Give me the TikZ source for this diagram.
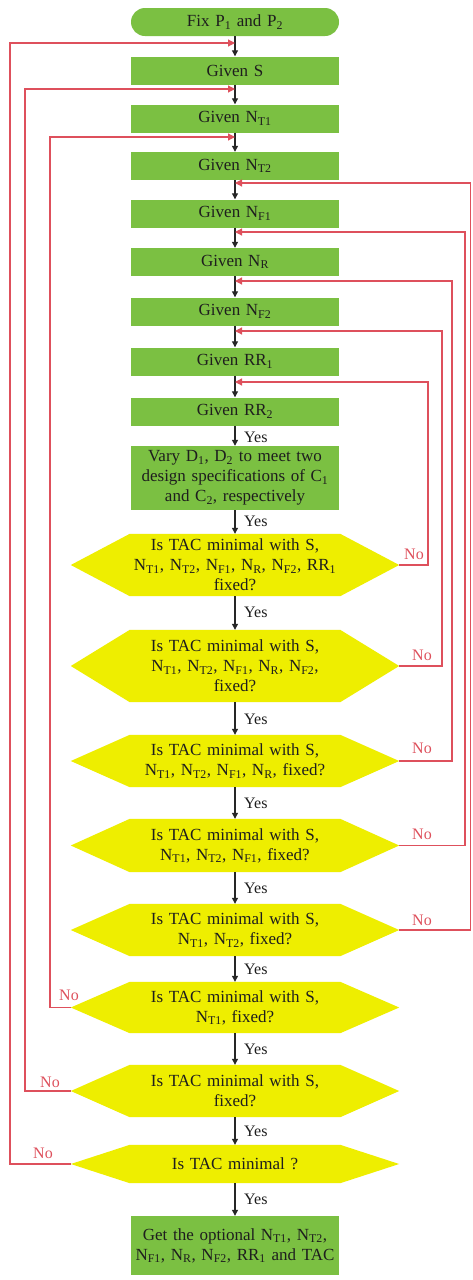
\documentclass[tikz,border=0pt]{standalone}
\usepackage{fontspec}
\setmainfont{Liberation Serif}
\usetikzlibrary{arrows.meta,calc}
\pgfdeclarelayer{background}
\pgfsetlayers{background,main}
\definecolor{boxgreen}{RGB}{123,192,66}
\definecolor{hexyellow}{RGB}{238,238,0}
\definecolor{loopred}{RGB}{222,80,92}
\definecolor{txt}{RGB}{30,30,30}
\newcommand\sbs[1]{\textsubscript{#1}}
\begin{document}
\begin{tikzpicture}[x=1pt,y=-1pt,
  font=\fontsize{17}{20}\selectfont, text=txt,
  gbox/.style={rectangle, fill=boxgreen, minimum width=208pt, minimum height=28pt, inner sep=0pt, align=center, text width=204pt},
  hexnode/.style={rectangle, minimum width=210pt, inner sep=0pt, align=center, text width=206pt},
  flow/.style={-{Triangle[length=6pt,width=6pt]}, line width=1.1pt, black!85},
  loopline/.style={loopred, line width=1.2pt, -{Triangle[length=7pt,width=7pt]}},
  yeslbl/.style={font=\fontsize{16}{18}\selectfont, anchor=west, inner sep=0pt},
  nolbl/.style={font=\fontsize{16}{18}\selectfont, text=loopred, inner sep=0pt}]
\useasboundingbox (0,0) rectangle (472,1280);

% process boxes
\node[gbox, rounded corners=14pt] (fix) at (235,22) {Fix P\sbs{1} and P\sbs{2}};
\node[gbox] (b1) at (235,70.5) {Given S};
\node[gbox] (b2) at (235,118.5) {Given N\sbs{T1}};
\node[gbox] (b3) at (235,166) {Given N\sbs{T2}};
\node[gbox] (b4) at (235,213.5) {Given N\sbs{F1}};
\node[gbox] (b5) at (235,262) {Given N\sbs{R}};
\node[gbox] (b6) at (235,311.5) {Given N\sbs{F2}};
\node[gbox] (b7) at (235,361.5) {Given RR\sbs{1}};
\node[gbox] (b8) at (235,411.5) {Given RR\sbs{2}};
\node[gbox, minimum height=64pt] (vary) at (235,478) {Vary D\sbs{1}, D\sbs{2} to meet two\\design specifications of C\sbs{1}\\and C\sbs{2}, respectively};

% decisions
\node[hexnode, minimum height=62pt] (h1) at (235,565) {Is TAC minimal with S,\\N\sbs{T1}, N\sbs{T2}, N\sbs{F1}, N\sbs{R}, N\sbs{F2}, RR\sbs{1}\\fixed?};
\node[hexnode, minimum height=72pt] (h2) at (235,666) {Is TAC minimal with S,\\N\sbs{T1}, N\sbs{T2}, N\sbs{F1}, N\sbs{R}, N\sbs{F2},\\fixed?};
\node[hexnode, minimum height=52pt] (h3) at (235,761) {Is TAC minimal with S,\\N\sbs{T1}, N\sbs{T2}, N\sbs{F1}, N\sbs{R}, fixed?};
\node[hexnode, minimum height=53pt] (h4) at (235,845.5) {Is TAC minimal with S,\\N\sbs{T1}, N\sbs{T2}, N\sbs{F1}, fixed?};
\node[hexnode, minimum height=52pt] (h5) at (235,930) {Is TAC minimal with S,\\N\sbs{T1}, N\sbs{T2}, fixed?};
\node[hexnode, minimum height=51pt] (h6) at (235,1007.5) {Is TAC minimal with S,\\N\sbs{T1}, fixed?};
\node[hexnode, minimum height=52pt] (h7) at (235,1091) {Is TAC minimal with S,\\fixed?};
\node[hexnode, minimum height=38pt] (h8) at (235,1164) {Is TAC minimal ?};
\node[gbox, minimum height=59pt] (final) at (235,1245.5) {Get the optional N\sbs{T1}, N\sbs{T2},\\N\sbs{F1}, N\sbs{R}, N\sbs{F2}, RR\sbs{1} and TAC};

% hexagon tips
\foreach \h in {h1,h2,h3,h4,h5,h6,h7,h8}{
  \coordinate (\h l) at ($(\h.west)+(-59,0)$);
  \coordinate (\h r) at ($(\h.east)+(59,0)$);
}
\begin{pgfonlayer}{background}
\fill[white] (0,0) rectangle (472,1280);
\foreach \h in {h1,h2,h3,h4,h5,h6,h7,h8}{
  \fill[hexyellow] (\h.north west) -- (\h l) -- (\h.south west) -- (\h.south east) -- (\h r) -- (\h.north east) -- cycle;
}
\end{pgfonlayer}

% junctions where loops return
\coordinate (j1) at (235,43);
\coordinate (j2) at (235,89);
\coordinate (j3) at (235,137);
\coordinate (j4) at (235,183);
\coordinate (j5) at (235,232);
\coordinate (j6) at (235,281);
\coordinate (j7) at (235,331);
\coordinate (j8) at (235,382);

% main flow
\draw[flow] (fix) -- (b1);
\draw[flow] (b1) -- (b2);
\draw[flow] (b2) -- (b3);
\draw[flow] (b3) -- (b4);
\draw[flow] (b4) -- (b5);
\draw[flow] (b5) -- (b6);
\draw[flow] (b6) -- (b7);
\draw[flow] (b7) -- (b8);
\draw[flow] (b8) -- (vary);
\draw[flow] (vary) -- (h1);
\draw[flow] (h1) -- (h2);
\draw[flow] (h2) -- (h3);
\draw[flow] (h3) -- (h4);
\draw[flow] (h4) -- (h5);
\draw[flow] (h5) -- (h6);
\draw[flow] (h6) -- (h7);
\draw[flow] (h7) -- (h8);
\draw[flow] (h8) -- (final);

% Yes labels
\node[yeslbl] (y1) at (244,437) {Yes};
\node[yeslbl] (y2) at (244,521) {Yes};
\node[yeslbl] (y3) at (244,612) {Yes};
\node[yeslbl] (y4) at (244,719) {Yes};
\node[yeslbl] (y5) at (244,803) {Yes};
\node[yeslbl] (y6) at (244,888) {Yes};
\node[yeslbl] (y7) at (244,969) {Yes};
\node[yeslbl] (y8) at (244,1049) {Yes};
\node[yeslbl] (y9) at (244,1131) {Yes};
\node[yeslbl] (y10) at (244,1199) {Yes};

% loops, left side
\draw[loopline] (h8l) -| (10,43) -- (j1);
\draw[loopline] (h7l) -| (25,89) -- (j2);
\draw[loopline] (h6l) -| (50,137) -- (j3);
% loops, right side
\draw[loopline] (h5r) -| (470.5,183) -- (j4);
\draw[loopline] (h4r) -| (465,232) -- (j5);
\draw[loopline] (h3r) -| (452,281) -- (j6);
\draw[loopline] (h2r) -| (442,331) -- (j7);
\draw[loopline] (h1r) -| (428,382) -- (j8);

% No labels
\node[nolbl] (n1) at (414,554) {No};
\node[nolbl] (n2) at (422,655) {No};
\node[nolbl] (n3) at (422,748) {No};
\node[nolbl] (n4) at (422,834) {No};
\node[nolbl] (n5) at (422,920) {No};
\node[nolbl] (n6) at (69,995) {No};
\node[nolbl] (n7) at (50,1082) {No};
\node[nolbl] (n8) at (43,1153) {No};
\end{tikzpicture}
\end{document}
